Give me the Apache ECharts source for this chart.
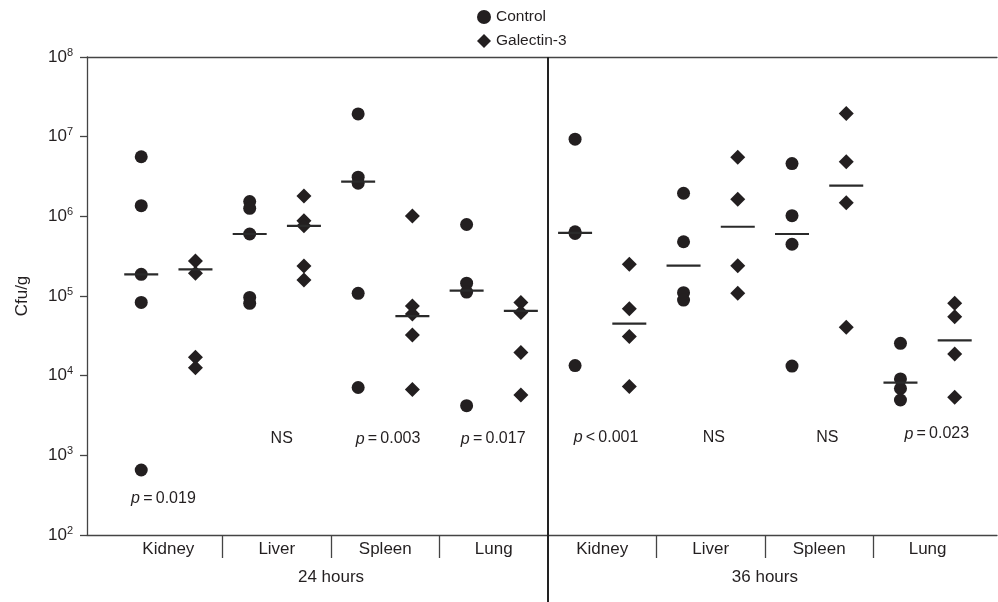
<!DOCTYPE html>
<html>
<head>
<meta charset="utf-8">
<script src="https://cdn.jsdelivr.net/npm/echarts@6/dist/echarts.min.js"></script>
<style>
  html, body { margin: 0; padding: 0; background: #fff; }
  #chart { width: 998px; height: 602px; }
</style>
</head>
<body>
<div id="chart"></div>
<script>
// organs per time point, one column of control + one of galectin-3 each
var organs = ['Kidney', 'Liver', 'Spleen', 'Lung'];
var timepoints = ['24 hours', '36 hours'];

// Cfu/g per animal, group order: 24h Kidney..Lung, then 36h Kidney..Lung
var controlValues = [
  [5.6e6, 1.36e6, 1.87e5, 8.3e4, 655],
  [1.53e6, 1.26e6, 6.0e5, 9.6e4, 8.1e4],
  [1.93e7, 3.1e6, 2.6e6, 1.08e5, 7.1e3],
  [7.9e5, 1.45e5, 1.12e5, 4.2e3],
  [9.3e6, 6.4e5, 6.1e5, 1.34e4],
  [1.95e6, 4.8e5, 1.1e5, 8.9e4],
  [4.6e6, 1.02e6, 4.46e5, 1.32e4],
  [2.55e4, 9.1e3, 6.9e3, 4.95e3]
];
var galectinValues = [
  [2.75e5, 1.93e5, 1.7e4, 1.26e4],
  [1.8e6, 8.8e5, 7.6e5, 2.38e5, 1.59e5],
  [1.01e6, 7.5e4, 5.95e4, 3.24e4, 6.7e3],
  [8.3e4, 6.2e4, 1.96e4, 5.7e3],
  [2.5e5, 6.9e4, 3.1e4, 7.3e3],
  [5.5e6, 1.64e6, 2.4e5, 1.08e5],
  [1.96e7, 4.85e6, 1.48e6, 4.05e4],
  [8.1e4, 5.5e4, 1.87e4, 5.35e3]
];
var controlMedians = [1.87e5, 6.0e5, 2.72e6, 1.17e5, 6.2e5, 2.4e5, 6.0e5, 8.2e3];
var galectinMedians = [2.16e5, 7.6e5, 5.6e4, 6.5e4, 4.5e4, 7.4e5, 2.43e6, 2.78e4];

// significance notes per group
var pTexts = ['p=0.019', 'NS', 'p=0.003', 'p=0.017', 'p<0.001', 'NS', 'NS', 'p=0.023'];
var pHeights = [283, 1600, 1600, 1600, 1650, 1650, 1650, 1850];
var pColumns = [0.41, 2.59, 4.55, 6.49, 8.57, 10.56, 12.65, 14.67];

var ink = '#231f20';
var font = 'Liberation Sans, Arial, sans-serif';

function columnPoints(groups, offset) {
  var out = [];
  groups.forEach(function (g, i) {
    g.forEach(function (v) { out.push([2 * i + offset, v]); });
  });
  return out;
}

var nGroups = organs.length * timepoints.length;
var organCenters = [], organSeps = [];
for (var i = 0; i < nGroups; i++) {
  organCenters.push(2 * i + 0.5);
  if (i > 0 && i % organs.length !== 0) organSeps.push(2 * i - 0.5);
}
var divider = organs.length * 2 - 0.5;
var hourCenters = timepoints.map(function (t, k) { return k * organs.length * 2 + organs.length - 0.5; });

var medianData = controlMedians.map(function (v, i) { return [2 * i, v]; })
  .concat(galectinMedians.map(function (v, i) { return [2 * i + 1, v]; }));

var pData = pTexts.map(function (t, i) {
  return { name: t, value: [pColumns[i], pHeights[i]] };
});

var xMin = -1, xMax = 15.78;

var chart = echarts.init(document.getElementById('chart'));

var option = {
  animation: false,
  textStyle: { fontFamily: font, color: ink },
  legend: {
    data: ['Control', 'Galectin-3'],
    orient: 'vertical',
    left: 472,
    top: 4,
    itemWidth: 14,
    itemHeight: 14,
    itemGap: 8,
    textStyle: { fontSize: 15.5, color: ink, fontFamily: font }
  },
  grid: { left: 87, right: 1, top: 57, bottom: 67, outerBoundsMode: 'none' },
  xAxis: [
    {
      type: 'value', min: xMin, max: xMax, position: 'bottom',
      splitLine: { show: false },
      axisLine: { show: true, onZero: false, lineStyle: { color: '#444', width: 1.3 } },
      axisTick: { show: true, length: 23, customValues: organSeps, lineStyle: { color: '#444', width: 1.3 } },
      axisLabel: {
        margin: 6, fontSize: 17, color: ink, fontFamily: font,
        customValues: organCenters,
        formatter: function (v) { return organs[Math.round((v - 0.5) / 2) % organs.length]; }
      }
    },
    {
      type: 'value', min: xMin, max: xMax, position: 'bottom',
      splitLine: { show: false },
      axisLine: { show: false, onZero: false },
      axisTick: { show: true, length: 67, customValues: [divider], lineStyle: { color: '#222', width: 2 } },
      axisLabel: {
        margin: 34, fontSize: 17, color: ink, fontFamily: font,
        customValues: hourCenters,
        formatter: function (v) { return timepoints[Math.round((v - hourCenters[0]) / (organs.length * 2))]; }
      }
    },
    {
      type: 'value', min: xMin, max: xMax, position: 'top',
      splitLine: { show: false },
      axisLine: { show: true, onZero: false, lineStyle: { color: '#444', width: 1.3 } },
      axisTick: { show: false },
      axisLabel: { show: false }
    }
  ],
  yAxis: {
    type: 'log', logBase: 10, min: 100, max: 1e8,
    name: 'Cfu/g', nameLocation: 'middle', nameGap: 56,
    nameTextStyle: { fontSize: 17, color: ink, fontFamily: font },
    splitLine: { show: false },
    axisLine: { show: true, onZero: false, lineStyle: { color: '#444', width: 1.3 } },
    axisTick: { show: true, length: 7, lineStyle: { color: '#444', width: 1.3 } },
    axisLabel: {
      margin: 14,
      formatter: function (v) { return '{b|10}{s|' + Math.round(Math.log10(v)) + '}'; },
      rich: {
        b: { fontSize: 17, color: ink, fontFamily: font },
        s: { fontSize: 11, color: ink, fontFamily: font, padding: [0, 0, 9, 0] }
      }
    }
  },
  series: [
    {
      name: 'Control', type: 'scatter', xAxisIndex: 0,
      symbol: 'circle', symbolSize: 13,
      itemStyle: { color: ink, opacity: 1 },
      data: columnPoints(controlValues, 0)
    },
    {
      name: 'Galectin-3', type: 'scatter', xAxisIndex: 0,
      symbol: 'diamond', symbolSize: 15,
      itemStyle: { color: ink, opacity: 1 },
      data: columnPoints(galectinValues, 1)
    },
    {
      name: 'median', type: 'scatter', xAxisIndex: 0,
      symbol: 'rect', symbolSize: [34, 2.2],
      itemStyle: { color: '#2a2a2a', opacity: 1 },
      data: medianData,
      markLine: {
        silent: true,
        symbol: ['none', 'none'],
        label: { show: false },
        lineStyle: { color: '#222', width: 2, type: 'solid' },
        data: [{ xAxis: divider }]
      }
    },
    {
      name: 'pvalues', type: 'scatter', xAxisIndex: 0,
      symbol: 'circle', symbolSize: 1,
      itemStyle: { color: '#ffffff', opacity: 1 },
      data: pData,
      label: {
        show: true, position: 'inside', color: ink,
        formatter: function (p) {
          var t = p.name;
          if (t.charAt(0) === 'p') {
            return '{i|p}{n|' + t.slice(1).replace(/([=<])/, '\u2009$1\u2009') + '}';
          }
          return '{n|' + t + '}';
        },
        rich: {
          i: { fontSize: 16, fontStyle: 'italic', color: ink, fontFamily: font },
          n: { fontSize: 16, color: ink, fontFamily: font }
        }
      }
    }
  ]
};

chart.setOption(option);
</script>
</body>
</html>
